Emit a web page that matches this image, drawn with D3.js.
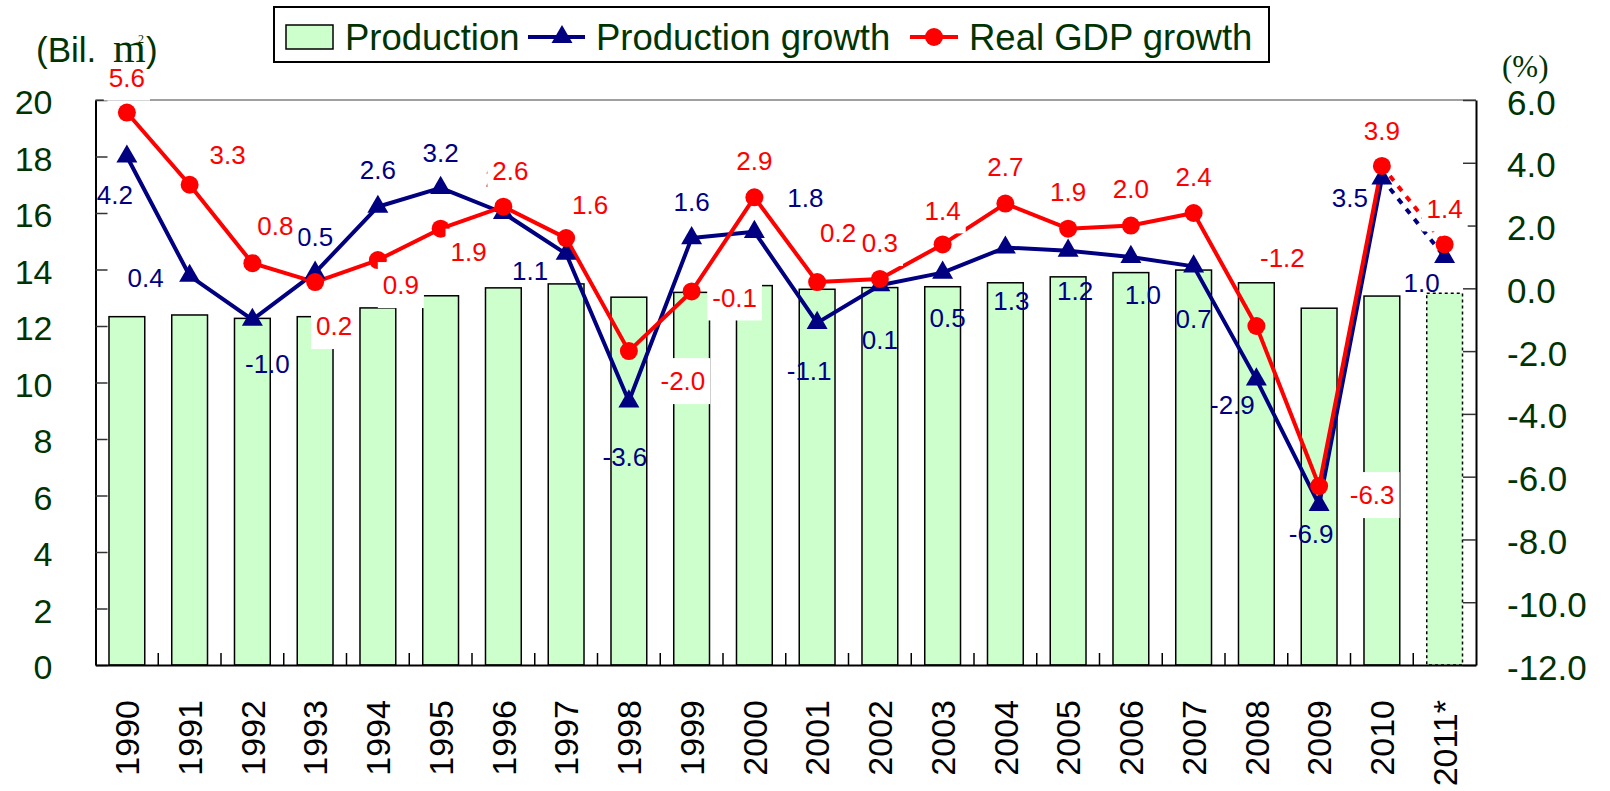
<!DOCTYPE html>
<html>
<head>
<meta charset="utf-8">
<script src="https://cdn.jsdelivr.net/npm/d3@7"></script>
<style>
  body { margin: 0; background: #fff; }
  svg { display: block; font-family: "Liberation Sans", Arial, sans-serif; }
</style>
</head>
<body>
<div class="chart"></div>
<script>
// data
const years = ["1990","1991","1992","1993","1994","1995","1996","1997","1998","1999","2000",
  "2001","2002","2003","2004","2005","2006","2007","2008","2009","2010","2011*"];
const production = [12.33, 12.39, 12.27, 12.33, 12.64, 13.07, 13.35, 13.49, 13.02, 13.19, 13.43,
  13.30, 13.36, 13.39, 13.53, 13.74, 13.89, 13.98, 13.53, 12.63, 13.06, 13.16];
const prodGrowth = [4.2, 0.4, -1.0, 0.5, 2.6, 3.2, 2.4, 1.1, -3.6, 1.6, 1.8,
  -1.1, 0.1, 0.5, 1.3, 1.2, 1.0, 0.7, -2.9, -6.9, 3.5, 1.0];
const gdpGrowth = [5.6, 3.3, 0.8, 0.2, 0.9, 1.9, 2.6, 1.6, -2.0, -0.1, 2.9,
  0.2, 0.3, 1.4, 2.7, 1.9, 2.0, 2.4, -1.2, -6.3, 3.9, 1.4];
const leftTicks = [0, 2, 4, 6, 8, 10, 12, 14, 16, 18, 20];
const rightTicks = [-12, -10, -8, -6, -4, -2, 0, 2, 4, 6];

// where each data label sits relative to its marker (px)
const prodLabelOffset = [[-12,38],[-44,2],[15,44],[0,-36],[0,-37],[0,-35],[0,-35],[-36,17],[-4,55],[0,-36],[51,-34],
  [-8,48],[0,54],[5,45],[6,53],[7,40],[12,38],[0,52],[-24,25],[-8,29],[-32,19],[-23,26]];
const gdpLabelOffset = [[0,-35],[38,-30],[23,-38],[19,44],[23,25],[28,23],[7,-36],[24,-33],[54,30],[43,6],[0,-37],
  [21,-49],[0,-36],[0,-34],[0,-37],[0,-37],[0,-37],[0,-36],[26,-68],[53,9],[0,-35],[0,-36]];

const width = 1610;
const height = 791;
const plotLeft = 95.5, plotRight = 1476, plotTop = 100, plotBottom = 665;
const green = "#003300";
const navy = "#000080";
const red = "#ff0000";

const svg = d3.select(".chart")
  .append("svg")
  .attr("width", width)
  .attr("height", height);

const x = d3.scaleBand()
  .domain(years)
  .range([plotLeft, plotRight])
  .paddingInner(0.43)
  .paddingOuter(0.215);

const yLeft = d3.scaleLinear().domain([0, 20]).range([plotBottom, plotTop]);
const yRight = d3.scaleLinear().domain([-12, 6]).range([plotBottom, plotTop]);
const cx = d => x(d) + x.bandwidth() / 2;

// top frame line
svg.append("line")
  .attr("x1", plotLeft).attr("x2", plotRight)
  .attr("y1", plotTop).attr("y2", plotTop)
  .attr("stroke", "#808080")
  .attr("stroke-width", 1.5);

// bars
svg.selectAll(".bar")
  .data(years)
  .enter()
  .append("rect")
  .attr("class", "bar")
  .attr("x", d => x(d))
  .attr("y", (d, i) => yLeft(production[i]))
  .attr("width", x.bandwidth())
  .attr("height", (d, i) => plotBottom - yLeft(production[i]))
  .attr("fill", "#ccffcc")
  .attr("stroke", "#000")
  .attr("stroke-width", 1.5)
  .attr("stroke-dasharray", (d, i) => i === years.length - 1 ? "3,3" : null);

// left axis
const axL = svg.append("g")
  .attr("transform", `translate(${plotLeft},0)`)
  .call(d3.axisLeft(yLeft).tickValues(leftTicks).tickSize(-12).tickSizeOuter(0).tickPadding(43));
axL.select(".domain").attr("stroke", "#000").attr("stroke-width", 2);
axL.selectAll(".tick line").attr("stroke", "#333").attr("stroke-width", 1.5);
axL.selectAll("text")
  .attr("fill", green)
  .attr("font-size", 34)
  .attr("font-family", "Liberation Sans, Arial, sans-serif")
  .attr("dy", "0.4em");

// right axis
const axR = svg.append("g")
  .attr("transform", `translate(${plotRight},0)`)
  .call(d3.axisRight(yRight).tickValues(rightTicks).tickSize(-13).tickSizeOuter(0).tickPadding(31)
    .tickFormat(d => d.toFixed(1)));
axR.select(".domain").attr("stroke", "#000").attr("stroke-width", 2);
axR.selectAll(".tick line").attr("stroke", "#333").attr("stroke-width", 1.5);
axR.selectAll("text")
  .attr("fill", green)
  .attr("font-size", 35)
  .attr("font-family", "Liberation Sans, Arial, sans-serif")
  .attr("dy", "0.4em");

// bottom axis with ticks between categories
const axB = svg.append("g")
  .attr("transform", `translate(0,${plotBottom})`)
  .call(d3.axisBottom(x).tickSize(0).tickSizeOuter(0));
axB.select(".domain").attr("stroke", "#000").attr("stroke-width", 2);
axB.selectAll("text")
  .attr("transform", "rotate(-90)")
  .attr("x", -35)
  .attr("y", 0)
  .attr("dy", "0.36em")
  .attr("text-anchor", "end")
  .attr("fill", "#000")
  .attr("font-size", 34)
  .attr("font-family", "Liberation Sans, Arial, sans-serif");
svg.selectAll(".xtick")
  .data(years.slice(1))
  .enter()
  .append("line")
  .attr("class", "xtick")
  .attr("x1", d => x(d) - x.step() * x.paddingInner() / 2)
  .attr("x2", d => x(d) - x.step() * x.paddingInner() / 2)
  .attr("y1", plotBottom)
  .attr("y2", plotBottom - 12)
  .attr("stroke", "#000")
  .attr("stroke-width", 1.5);

// lines: solid through 2010, dotted to 2011*
function drawSeries(values, color) {
  const pts = years.map((d, i) => [cx(d), yRight(values[i])]);
  const line = d3.line();
  svg.append("path")
    .attr("d", line(pts.slice(0, pts.length - 1)))
    .attr("fill", "none")
    .attr("stroke", color)
    .attr("stroke-width", 4)
    .attr("stroke-linejoin", "round");
  svg.append("path")
    .attr("d", line(pts.slice(pts.length - 2)))
    .attr("fill", "none")
    .attr("stroke", color)
    .attr("stroke-width", 4)
    .attr("stroke-dasharray", "6,7");
}
drawSeries(prodGrowth, navy);
drawSeries(gdpGrowth, red);

svg.selectAll(".tri")
  .data(years)
  .enter()
  .append("path")
  .attr("class", "tri")
  .attr("d", d3.symbol().type(d3.symbolTriangle).size(190))
  .attr("transform", (d, i) => `translate(${cx(d)},${yRight(prodGrowth[i])})`)
  .attr("fill", navy);

svg.selectAll(".dot")
  .data(years)
  .enter()
  .append("circle")
  .attr("class", "dot")
  .attr("cx", d => cx(d))
  .attr("cy", (d, i) => yRight(gdpGrowth[i]))
  .attr("r", 9)
  .attr("fill", red);

// production growth labels (no box)
svg.selectAll(".plabel")
  .data(years)
  .enter()
  .append("text")
  .attr("class", "plabel")
  .attr("x", (d, i) => cx(d) + prodLabelOffset[i][0])
  .attr("y", (d, i) => yRight(prodGrowth[i]) + prodLabelOffset[i][1])
  .attr("dy", "0.36em")
  .attr("text-anchor", "middle")
  .attr("font-size", 26)
  .attr("fill", navy)
  .text((d, i) => prodGrowth[i].toFixed(1));

// GDP growth labels sit on white boxes
const glabels = svg.selectAll(".glabel")
  .data(years)
  .enter()
  .append("g")
  .attr("class", "glabel")
  .attr("transform", (d, i) => `translate(${cx(d) + gdpLabelOffset[i][0]},${yRight(gdpGrowth[i]) + gdpLabelOffset[i][1]})`);
glabels.append("rect")
  .attr("fill", "#fff");
glabels.append("text")
  .attr("dy", "0.36em")
  .attr("text-anchor", "middle")
  .attr("font-size", 26)
  .attr("fill", red)
  .text((d, i) => gdpGrowth[i].toFixed(1));
glabels.each(function() {
  const g = d3.select(this);
  const w = g.select("text").node().getBBox().width;
  g.select("rect")
    .attr("x", -w / 2 - 5)
    .attr("y", -23)
    .attr("width", w + 10)
    .attr("height", 46);
});

// axis units
const unit = svg.append("text")
  .attr("y", 62)
  .attr("font-size", 35)
  .attr("fill", green);
unit.append("tspan").attr("x", 36).text("(Bil.");
unit.append("tspan").attr("x", 113).attr("font-family", "Liberation Serif, serif").attr("font-size", 42).text("m");
unit.append("tspan").attr("x", 138).attr("y", 43).attr("font-family", "Liberation Serif, serif")
  .attr("font-size", 12).text("2");
unit.append("tspan").attr("x", 146).attr("y", 62).text(")");

svg.append("text")
  .attr("x", 1502)
  .attr("y", 77)
  .attr("font-family", "Liberation Serif, serif")
  .attr("font-size", 31)
  .attr("fill", green)
  .text("(%)");

// legend
const legend = svg.append("g");
legend.append("rect")
  .attr("x", 274).attr("y", 7)
  .attr("width", 995).attr("height", 55)
  .attr("fill", "#fff")
  .attr("stroke", "#000")
  .attr("stroke-width", 2);
legend.append("rect")
  .attr("x", 286).attr("y", 25)
  .attr("width", 47).attr("height", 24)
  .attr("fill", "#ccffcc")
  .attr("stroke", "#000")
  .attr("stroke-width", 1.5);
legend.append("line")
  .attr("x1", 528).attr("x2", 585)
  .attr("y1", 37).attr("y2", 37)
  .attr("stroke", navy).attr("stroke-width", 4);
legend.append("path")
  .attr("d", d3.symbol().type(d3.symbolTriangle).size(190))
  .attr("transform", "translate(562,37)")
  .attr("fill", navy);
legend.append("line")
  .attr("x1", 910).attr("x2", 958)
  .attr("y1", 37).attr("y2", 37)
  .attr("stroke", red).attr("stroke-width", 4);
legend.append("circle")
  .attr("cx", 934).attr("cy", 37).attr("r", 9)
  .attr("fill", red);
const legendText = [["Production", 345], ["Production growth", 596], ["Real GDP growth", 969]];
legend.selectAll(".ltext")
  .data(legendText)
  .enter()
  .append("text")
  .attr("class", "ltext")
  .attr("x", d => d[1])
  .attr("y", 50)
  .attr("font-size", 36.5)
  .attr("fill", green)
  .text(d => d[0]);
</script>
</body>
</html>
